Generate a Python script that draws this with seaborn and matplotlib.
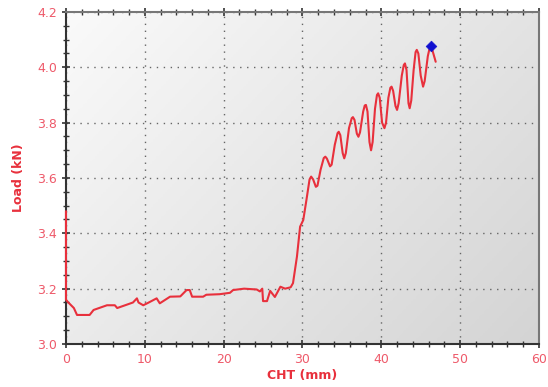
import numpy as np
import pandas as pd
import matplotlib
matplotlib.use("Agg")
import matplotlib.pyplot as plt
from matplotlib.ticker import MultipleLocator
from matplotlib.colors import LinearSegmentedColormap
import seaborn as sns

cht = [0.0, 0.0, 0.3, 1.0, 1.4, 3.0, 3.5, 5.2, 6.2, 6.5, 7.5, 8.5, 9.0, 9.2, 9.8,
       10.5, 11.5, 11.9, 13.2, 14.5, 15.3, 15.7, 16.0, 17.4, 17.8, 19.5, 20.8,
       21.2, 22.6, 24.2, 24.6, 24.9, 25.0, 25.5, 25.9, 26.5, 27.2, 27.8, 28.5,
       28.8, 29.3, 29.7, 30.1, 30.5, 30.9, 31.1, 31.35, 31.7, 31.9, 32.3, 32.7,
       32.9, 33.1, 33.5, 33.7, 34.1, 34.45, 34.6, 34.8, 35.1, 35.3, 35.5, 35.9,
       36.25, 36.4, 36.6, 36.9, 37.1, 37.3, 37.7, 37.9, 38.05, 38.25, 38.5,
       38.7, 38.9, 39.2, 39.45, 39.6, 39.8, 40.1, 40.4, 40.6, 40.9, 41.15, 41.3,
       41.5, 41.8, 42.0, 42.2, 42.6, 42.85, 43.0, 43.2, 43.45, 43.6, 43.8, 44.1,
       44.35, 44.5, 44.7, 45.0, 45.3, 45.5, 45.9, 46.15, 46.3, 46.5, 46.9]
load = [3.48, 3.16, 3.15, 3.13, 3.105, 3.105, 3.123, 3.14, 3.14, 3.13, 3.14,
        3.15, 3.165, 3.15, 3.14, 3.15, 3.165, 3.147, 3.171, 3.172, 3.195, 3.195,
        3.171, 3.171, 3.178, 3.18, 3.185, 3.195, 3.2, 3.197, 3.19, 3.2, 3.155,
        3.155, 3.192, 3.17, 3.207, 3.2, 3.205, 3.22, 3.316, 3.424, 3.448, 3.52,
        3.595, 3.605, 3.595, 3.568, 3.572, 3.63, 3.672, 3.677, 3.670, 3.642,
        3.648, 3.72, 3.762, 3.767, 3.755, 3.69, 3.671, 3.69, 3.78, 3.816, 3.82,
        3.81, 3.76, 3.749, 3.765, 3.84, 3.862, 3.864, 3.84, 3.73, 3.70, 3.73,
        3.85, 3.90, 3.906, 3.89, 3.80, 3.78, 3.80, 3.89, 3.926, 3.93, 3.915,
        3.86, 3.846, 3.87, 3.97, 4.008, 4.014, 3.99, 3.87, 3.852, 3.88, 3.99,
        4.055, 4.063, 4.05, 3.97, 3.93, 3.95, 4.04, 4.072, 4.077, 4.06, 4.02]
peak_x = [46.3]
peak_y = [4.077]

x_ticks = [0, 10, 20, 30, 40, 50, 60]
y_ticks = [3.0, 3.2, 3.4, 3.6, 3.8, 4.0, 4.2]

df = pd.DataFrame({"CHT (mm)": cht, "Load (kN)": load})

sns.set_style("white")
fig = plt.figure(figsize=(5.48, 3.87), dpi=100)
ax = fig.add_axes([0.1204, 0.1111, 0.8631, 0.858])

# gradient background: light top-left, darker bottom-right
cmap = LinearSegmentedColormap.from_list("bg", ["#fafafa", "#d4d4d4"])
gx, gy = np.meshgrid(np.linspace(0, 1, 200), np.linspace(0, 1, 200))
grad = 0.6 * gx + 0.4 * (1 - gy)
ax.imshow(grad, cmap=cmap, extent=[0, 1, 0, 1], origin="lower",
          transform=ax.transAxes, aspect="auto", zorder=0, vmin=0, vmax=1)

red = "#e8303c"
sns.lineplot(data=df, x="CHT (mm)", y="Load (kN)", ax=ax, sort=False,
             estimator=None, color=red, linewidth=1.5, zorder=3)
for ln in ax.lines:
    ln.set_clip_on(False)
sns.scatterplot(x=peak_x, y=peak_y, ax=ax, marker="D", color="#1010d0",
                s=30, edgecolor="#1010d0", zorder=4)

ax.set_xlim(0, 60)
ax.set_ylim(3.0, 4.2)
ax.set_xticks(x_ticks)
ax.set_yticks(y_ticks)
ax.xaxis.set_minor_locator(MultipleLocator(2))
ax.yaxis.set_minor_locator(MultipleLocator(0.05))
ax.set_xticklabels([str(v) for v in x_ticks])
ax.set_yticklabels([f"{v:.1f}" for v in y_ticks])

ax.grid(True, which="major", linestyle=(0, (1, 4)), color="#666666",
        linewidth=1.0, zorder=1)

lab_col = "#ee5a6a"
ax.tick_params(axis="both", which="major", direction="inout", length=6,
               width=1.2, color="#333333", labelcolor=lab_col, labelsize=9,
               bottom=True, left=True, top=True, right=False)
ax.tick_params(axis="both", which="minor", direction="inout", length=4,
               width=1.0, color="#333333", bottom=True, left=True, top=True,
               right=False)
ax.tick_params(axis="y", which="both", right=False)

for s in ["left", "bottom"]:
    ax.spines[s].set_color("#333333")
    ax.spines[s].set_linewidth(1.5)
for s in ["top", "right"]:
    ax.spines[s].set_color("#777777")
    ax.spines[s].set_linewidth(1.5)

ax.set_xlabel("CHT (mm)", color=red, fontsize=9, fontweight="bold",
              labelpad=2)
ax.set_ylabel("Load (kN)", color=red, fontsize=9, fontweight="bold",
              labelpad=9)

fig.savefig("out.png", dpi=100, facecolor="white")
